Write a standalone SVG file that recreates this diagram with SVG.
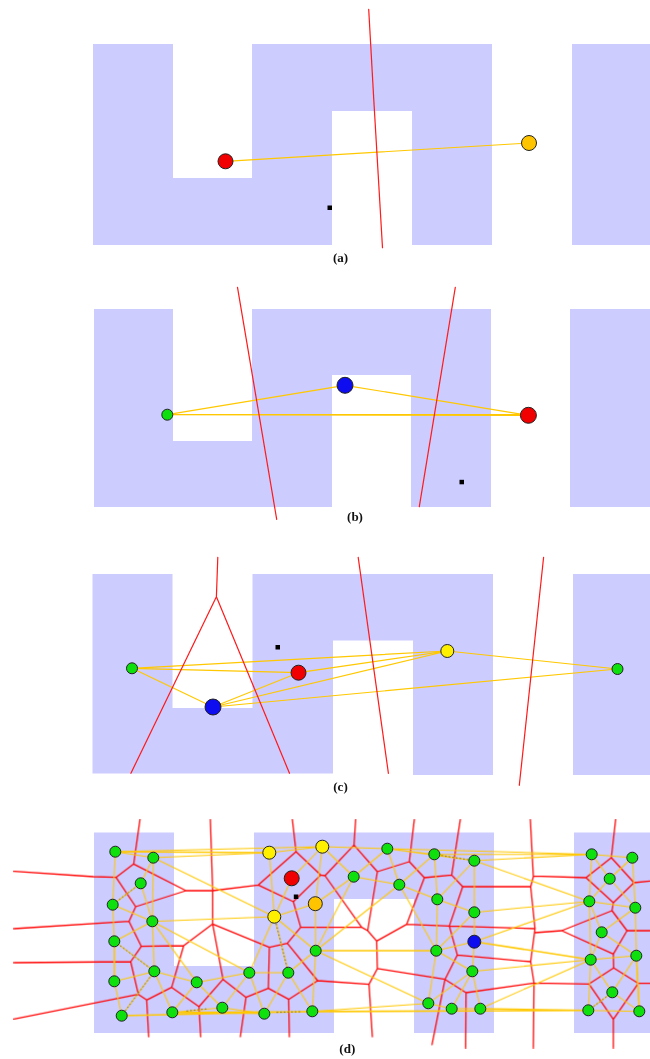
<svg xmlns="http://www.w3.org/2000/svg" width="650" height="1059" viewBox="0 0 650 1059">
<defs>
<filter id="soft" x="-2%" y="-2%" width="104%" height="104%"><feGaussianBlur stdDeviation="0.3"/></filter>
</defs>
<style>
.wall{fill:#CCCCFF;stroke:none}
.ed{fill:none;stroke:#FFC800;stroke-width:1.2;stroke-linecap:round;stroke-linejoin:round}
.vo{fill:none;stroke:#FF1A1A;stroke-width:1.2;stroke-linecap:round;stroke-linejoin:round}
.zoomed .ed{stroke-width:3.2}
.zoomed .thick{stroke-width:4.6}
.zoomed .vo{stroke:#FF0808;stroke-width:3.8}
.zoomed .dot{fill:none;stroke:#6b5a00;stroke-width:3;stroke-dasharray:4 7}
circle{stroke:#222;stroke-width:1}
.g{fill:#0CE00C}.r{fill:#F00000}.b{fill:#0808F0}.y{fill:#FFF000}.o{fill:#FFC400}
.sq{fill:#000}
text{font-family:"Liberation Serif","Times New Roman",serif;font-weight:bold;font-size:13px;fill:#111;text-anchor:middle}
</style>

<g id="walls">
<path class="wall" d="M93 44H173V178H252V44H492V245H412V111H332V245H93Z"/>
<rect class="wall" x="572" y="44" width="78" height="201"/>
<path class="wall" d="M94 309H173V441H252V309H491V507H411V375H332V507H94Z"/>
<rect class="wall" x="570" y="309" width="80" height="198"/>
<path class="wall" d="M92.500 574H172.500V708H252.500V574H493V775H413V640.500H333V773.500H92.500Z"/>
<rect class="wall" x="573" y="574" width="77" height="201"/>
<path class="wall" d="M94 832.500H174V966H254V832.500H494V1033H414V899H334V1033H94Z"/>
<rect class="wall" x="574" y="832.500" width="76" height="200.500"/>
</g>

<g id="connectors" filter="url(#soft)">
<g id="connectors-a">
<path class="ed" d="M225.500 161.300L529 143"/>
<path class="vo" d="M368.700 9.300L373.800 100L382.500 247.700"/>
</g>
<g id="connectors-b">
<path class="ed" d="M167.300 414.700L345 385.300L528.400 415.300ZM167.300 414.700H528.400"/>
<path class="vo" d="M237.500 287.300L276.700 519.300M455.300 287.300L419.300 506.700"/>
</g>
<g id="connectors-c">
<path class="ed" d="M132 668.300L447.300 651L617.500 669L213 707L132 668.300L298.500 672.700L447.300 651L213 707L298.500 672.700"/>
<path class="vo" d="M217.800 557.300L216.400 596.700L130.900 773.300M216.400 596.700L289.500 773.300M358.200 557.300L388.400 773.300M543.600 557.300L519.300 785.300"/>
</g>
<g id="connectors-d" class="zoomed" transform="translate(0 810) scale(0.33333)">
<path class="vo" d="M420 28L401 162L348 202L280 200L42 184M401 162L558 242L638 242L775 225L888 125L877 28M631 28L638 242L638 342M348 202L407 290L558 242M407 290L387 334L42 356M387 334L424 409L392 455L42 458M392 455L415 553L42 627M415 553L440 570L446 680M440 570L515 532L551 407L424 409M551 407L638 342L669 508L597 590L515 532M597 590L602 680M669 508L738 562L721 680M738 562L805 535L808 412L638 342M808 412L862 400L902 352L880 275L775 225M805 535L866 568L868 680M866 568L953 512L862 400M888 125L962 195L880 275M962 195L975 197L1062 105L1067 28M902 352L1085 352L1103 362L1130 393M1062 105L1132 185L1103 362M975 197L1085 352M1132 185L1228 155L1243 28M1228 155L1273 203L1355 195L1381 28M1355 195L1388 230L1592 230M1273 203L1220 343L1130 393M1220 343L1348 348L1388 230M1348 348L1605 356M1348 348L1372 435L1592 455M1372 435L1335 508L1296 704M1335 508L1132 476L1130 393M1132 476L1107 523L1117 680M1107 523L953 512M1335 508L1398 548L1397 714M1398 548L1602 519M1591 28L1600 200L1592 230L1605 356L1592 455L1602 519L1600 714M1600 198L1758 203L1834 143L1847 28M1834 143L1902 218L1950 213M1902 218L1840 278L1758 203M1840 278L1836 302L1881 362L1950 362M1881 362L1840 432L1841 474L1767 522L1602 519M1836 302L1685 362L1605 368M1685 362L1840 432M1841 474L1915 520L1950 520M1767 522L1840 628L1840 714M1915 520L1840 628"/>
<path class="ed" d="M346 125L460 143M346 125L338 284M346 125L967 110M460 143L808 128M460 143L422 220M460 143L457 334M460 143L823 320M422 220L338 284M422 220L457 334M338 284L457 334M338 284L343 394M457 334L343 394M457 334L463 484M457 334L823 320M457 334L748 488M457 334L590 517M343 394L463 484M463 484L343 514M463 484L365 617M463 484L517 607M463 484L590 517M343 514L365 617M517 607L590 517M517 607L667 593M517 607L793 611M590 517L667 593M590 517L748 488M667 593L748 488M667 593L793 611M748 488L793 611M748 488L865 488M748 488L823 320M865 488L823 320M793 611L865 488M865 488L937 604M865 488L947 422M937 604L947 422M947 422L946 281M947 422L823 320M808 128L823 320M808 128L967 110M875 205L823 320M875 205L967 110M967 110L946 281M946 281L823 320M946 281L1061 200M967 110L1162 116M967 110L1061 200M1061 200L1162 116M1061 200L1198 224M1162 116L1198 224M1162 116L1303 133M1162 116L1423 152M1303 133L1423 152M1162 116L1775 133M1303 133L1775 133M1423 152L1775 133M1198 224L1303 133M1198 224L1312 268M1198 224L1309 422M1303 133L1312 268M1423 152L1312 268M1312 268L1423 307M1423 152L1423 307M1423 307L1423 395M1312 268L1309 422M1423 307L1309 422M1423 395L1309 422M1423 395L1417 484M1309 422L1417 484M1309 422L1285 580M1417 484L1285 580M1417 484L1355 596M1417 484L1441 596M1285 580L1355 596M1355 596L1441 596M1423 307L1768 274M1423 152L1768 274M1423 395L1768 274M1417 484L1772 449M1441 596L1772 449M947 422L1198 224M947 422L1285 580M937 604L1285 580M1061 200L947 422M1775 133L1897 143M1775 133L1829 206M1775 133L1768 274M1897 143L1829 206M1897 143L1906 293M1829 206L1768 274M1829 206L1906 293M1768 274L1906 293M1768 274L1805 367M1768 274L1772 449M1906 293L1805 367M1906 293L1909 437M1805 367L1772 449M1805 367L1909 437M1772 449L1909 437M1772 449L1837 547M1772 449L1765 601M1909 437L1837 547M1909 437L1918 604M1837 547L1918 604M1837 547L1765 601M1765 601L1918 604"/>
<path class="ed thick" d="M346 125L808 128M343 394L343 514M947 422L1309 422M365 617L937 604M517 607L1765 601M937 604L1765 601M1423 395L1772 449M1441 596L1765 601M1909 437L1918 604"/>
<path class="dot" d="M422 220L338 284M343 394L463 484M463 484L365 617M823 320L865 488M560 603L625 596M830 607L905 605M1303 133L1423 152M1837 547L1765 601"/>
</g>
</g>

<g id="nodes" filter="url(#soft)">
<g id="a-start"><circle class="r" cx="225.500" cy="161.300" r="7.500"/></g>
<g id="a-goal"><circle class="o" cx="529" cy="143" r="7.500"/></g>
<rect id="a-robot" class="sq" x="327.500" y="205.500" width="4.500" height="4.500"/>

<g id="b-1"><circle class="g" cx="167.300" cy="414.700" r="5.500"/></g>
<g id="b-2"><circle class="b" cx="345" cy="385.300" r="8"/></g>
<g id="b-3"><circle class="r" cx="528.400" cy="415.300" r="8"/></g>
<rect id="b-robot" class="sq" x="459.500" y="479.800" width="4.500" height="4.500"/>

<g id="c-1"><circle class="g" cx="132" cy="668.300" r="5.500"/></g>
<g id="c-2"><circle class="b" cx="213" cy="707" r="8"/></g>
<g id="c-3"><circle class="r" cx="298.500" cy="672.700" r="7.500"/></g>
<g id="c-4"><circle class="y" cx="447.300" cy="651" r="6.500"/></g>
<g id="c-5"><circle class="g" cx="617.500" cy="669" r="5.500"/></g>
<rect id="c-robot" class="sq" x="275.500" y="645" width="4.500" height="4.500"/>

<g id="d-nodes">
<circle class="g" cx="115.300" cy="851.700" r="5.500"/>
<circle class="g" cx="153.300" cy="857.700" r="5.500"/>
<circle class="g" cx="140.700" cy="883.300" r="5.500"/>
<circle class="g" cx="112.700" cy="904.700" r="5.500"/>
<circle class="g" cx="152.300" cy="921.300" r="5.500"/>
<circle class="g" cx="114.300" cy="941.300" r="5.500"/>
<circle class="g" cx="154.300" cy="971.300" r="5.500"/>
<circle class="g" cx="114.300" cy="981.300" r="5.500"/>
<circle class="g" cx="121.700" cy="1015.700" r="5.500"/>
<circle class="g" cx="172.300" cy="1012.300" r="5.500"/>
<circle class="g" cx="196.700" cy="982.300" r="5.500"/>
<circle class="g" cx="222.300" cy="1007.700" r="5.500"/>
<circle class="g" cx="249.300" cy="972.700" r="5.500"/>
<circle class="g" cx="264.300" cy="1013.700" r="5.500"/>
<circle class="g" cx="288.300" cy="972.700" r="5.500"/>
<circle class="g" cx="312.300" cy="1011.300" r="5.500"/>
<circle class="g" cx="315.700" cy="950.700" r="5.500"/>
<circle class="y" cx="269.300" cy="852.700" r="6.500"/>
<circle class="y" cx="322.300" cy="846.700" r="6.500"/>
<circle class="r" cx="291.700" cy="878.300" r="7.500"/>
<circle class="o" cx="315.300" cy="903.700" r="7"/>
<circle class="y" cx="274.300" cy="916.700" r="6.500"/>
<rect class="sq" x="293.800" y="894.500" width="4.500" height="4.500"/>
<circle class="g" cx="353.700" cy="876.700" r="5.500"/>
<circle class="g" cx="387.300" cy="848.700" r="5.500"/>
<circle class="g" cx="399.300" cy="884.700" r="5.500"/>
<circle class="g" cx="434.300" cy="854.300" r="5.500"/>
<circle class="g" cx="474.300" cy="860.700" r="5.500"/>
<circle class="g" cx="437.300" cy="899.300" r="5.500"/>
<circle class="g" cx="474.300" cy="912.300" r="5.500"/>
<circle class="b" cx="474.300" cy="941.700" r="6.500"/>
<circle class="g" cx="436.300" cy="950.700" r="5.500"/>
<circle class="g" cx="472.300" cy="971.300" r="5.500"/>
<circle class="g" cx="428.300" cy="1003.300" r="5.500"/>
<circle class="g" cx="451.700" cy="1008.700" r="5.500"/>
<circle class="g" cx="480.300" cy="1008.700" r="5.500"/>
<circle class="g" cx="591.700" cy="854.300" r="5.500"/>
<circle class="g" cx="632.300" cy="857.700" r="5.500"/>
<circle class="g" cx="609.700" cy="878.700" r="5.500"/>
<circle class="g" cx="589.300" cy="901.300" r="5.500"/>
<circle class="g" cx="635.300" cy="907.700" r="5.500"/>
<circle class="g" cx="601.700" cy="932.300" r="5.500"/>
<circle class="g" cx="590.700" cy="959.700" r="5.500"/>
<circle class="g" cx="636.300" cy="955.700" r="5.500"/>
<circle class="g" cx="612.300" cy="992.300" r="5.500"/>
<circle class="g" cx="588.300" cy="1010.300" r="5.500"/>
<circle class="g" cx="639.300" cy="1011.300" r="5.500"/>
</g>
</g>

<g id="labels">
<text x="340.500" y="262">(a)</text>
<text x="355" y="521">(b)</text>
<text x="340.500" y="791">(c)</text>
<text x="347.300" y="1053">(d)</text>
</g>
</svg>
